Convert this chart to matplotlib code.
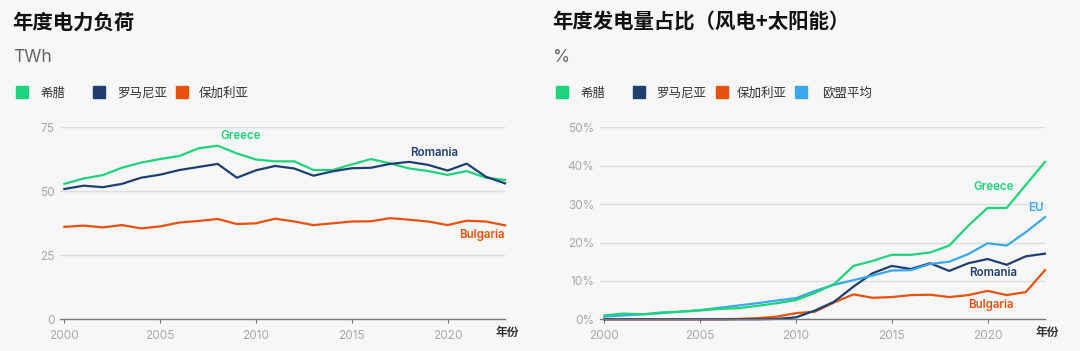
import matplotlib
matplotlib.use("Agg")
import matplotlib.pyplot as plt
from matplotlib.patches import Rectangle

plt.rcParams['font.family'] = ['Inter', 'Noto Sans CJK SC', 'DejaVu Sans']

years = list(range(2000, 2024))

# Annual electricity demand (TWh)
demand_greece = [52.9, 55.0, 56.3, 59.2, 61.2, 62.6, 63.8, 66.8, 67.8, 64.8, 62.4, 61.7,
                 61.7, 58.3, 58.3, 60.5, 62.6, 60.9, 58.9, 57.9, 56.4, 57.9, 55.3, 54.4]
demand_romania = [50.9, 52.2, 51.6, 52.9, 55.3, 56.5, 58.3, 59.5, 60.7, 55.3, 58.2, 59.9,
                  58.9, 56.1, 57.8, 59.0, 59.2, 60.7, 61.5, 60.3, 58.1, 60.8, 55.7, 53.1]
demand_bulgaria = [36.1, 36.6, 35.9, 36.8, 35.5, 36.3, 37.8, 38.4, 39.2, 37.2, 37.5, 39.3,
                   38.2, 36.8, 37.5, 38.2, 38.3, 39.5, 38.9, 38.2, 36.8, 38.5, 38.2, 36.7]

# Wind + solar share of generation (%)
share_greece = [1.0, 1.5, 1.3, 1.8, 2.0, 2.3, 2.7, 2.9, 3.5, 4.2, 5.0, 6.9,
                9.2, 13.9, 15.2, 16.8, 16.8, 17.4, 19.2, 24.4, 29.0, 29.0, 35.0, 41.0]
share_romania = [0.0, 0.0, 0.0, 0.0, 0.0, 0.0, 0.0, 0.0, 0.0, 0.1, 0.5, 2.3,
                 4.6, 8.5, 12.0, 13.9, 13.1, 14.6, 12.6, 14.6, 15.7, 14.2, 16.4, 17.1]
share_bulgaria = [0.0, 0.0, 0.0, 0.0, 0.0, 0.0, 0.0, 0.1, 0.3, 0.7, 1.6, 2.0,
                  4.4, 6.5, 5.6, 5.8, 6.3, 6.4, 5.8, 6.3, 7.4, 6.3, 7.1, 12.8]
share_eu = [0.7, 1.0, 1.3, 1.6, 2.0, 2.4, 3.0, 3.6, 4.2, 4.9, 5.5, 7.4,
            9.0, 10.2, 11.4, 12.7, 12.8, 14.4, 15.0, 17.0, 19.8, 19.2, 22.7, 26.6]

legend_left = ['希腊', '罗马尼亚', '保加利亚']
legend_right = ['希腊', '罗马尼亚', '保加利亚', '欧盟平均']
labels_left = ['Greece', 'Romania', 'Bulgaria']
labels_right = ['Greece', 'Romania', 'Bulgaria', 'EU']
xticks = [2000, 2005, 2010, 2015, 2020]
yticks_left = [0, 25, 50, 75]
yticks_right = [0, 10, 20, 30, 40, 50]

GREEN = '#1fd37a'
NAVY = '#203f6e'
ORANGE = '#e8520e'
BLUE = '#3aa8ea'
BG = '#f7f7f7'
GRID = '#dddddd'
TICK = '#a8a8a8'
CJK = ['Noto Sans CJK SC', 'DejaVu Sans']

W, H = 1080, 351
fig = plt.figure(figsize=(W / 100, H / 100), dpi=100, facecolor=BG)


def px(x, y):
    return x / W, 1 - y / H


def make_axes(left_px, ylim, yticks, fmt):
    ax = fig.add_axes([left_px / W, (H - 319.3) / H, (505 - 60) / W, 192 / H])
    ax.set_facecolor(BG)
    ax.set_xlim(1999.77, 2023)
    ax.set_ylim(*ylim)
    for s in ['top', 'right', 'left']:
        ax.spines[s].set_visible(False)
    ax.spines['bottom'].set_color('#777777')
    ax.spines['bottom'].set_linewidth(1.0)
    ax.set_yticks(yticks)
    ax.set_yticklabels([fmt(v) for v in yticks], fontsize=8.5, color=TICK)
    ax.tick_params(axis='y', length=0, pad=4)
    ax.set_xticks(xticks)
    ax.set_xticklabels([str(v) for v in xticks], fontsize=8.5, color=TICK)
    ax.tick_params(axis='x', length=3, color='#777777', pad=5)
    for v in yticks[1:]:
        ax.axhline(v, color=GRID, lw=1.0, zorder=0)
    return ax


def legend(items):
    for (sq_x, tx_x, name, col) in items:
        fig.patches.append(Rectangle(px(sq_x, 98), 12 / W, 12 / H, color=col,
                                     transform=fig.transFigure))
        fig.text(*px(tx_x, 93), name, fontsize=9, color='#333333', va='center', family=CJK)


# ---------- Left chart ----------
fig.text(*px(12, 22), '年度电力负荷', fontsize=14.7, fontweight='bold', color='#111111',
         va='center', family=CJK)
fig.text(*px(13, 57), 'TWh', fontsize=12.5, color='#666666', va='center')
legend([(16, 41, legend_left[0], GREEN), (93, 117, legend_left[1], NAVY),
        (176, 199, legend_left[2], ORANGE)])

ax1 = make_axes(60, (0, 75), yticks_left, lambda v: f'{v}')
for vals, col in [(demand_greece, GREEN), (demand_romania, NAVY), (demand_bulgaria, ORANGE)]:
    ax1.plot(years, vals, color=col, lw=1.6, clip_on=False)
ax1.text(2009.2, 71.6, labels_left[0], color=GREEN, fontsize=8.3, fontweight='semibold', ha='center', va='center')
ax1.text(2019.3, 65.1, labels_left[1], color=NAVY, fontsize=8.3, fontweight='semibold', ha='center', va='center')
ax1.text(2021.8, 32.9, labels_left[2], color=ORANGE, fontsize=8.3, fontweight='semibold', ha='center', va='center')
fig.text(*px(507.5, 332), '年份', fontsize=8.5, fontweight='bold', color='#333333',
         ha='center', va='center', family=CJK)

# ---------- Right chart ----------
fig.text(*px(552, 22), '年度发电量占比（风电+太阳能）', fontsize=14.7, fontweight='bold',
         color='#111111', va='center', family=CJK)
fig.text(*px(553, 57), '%', fontsize=12.5, color='#666666', va='center')
legend([(556, 581, legend_right[0], GREEN), (633, 656, legend_right[1], NAVY),
        (716, 737, legend_right[2], ORANGE), (795, 822, legend_right[3], BLUE)])

ax2 = make_axes(600, (0, 50), yticks_right, lambda v: f'{v}%')
for vals, col in [(share_bulgaria, ORANGE), (share_romania, NAVY), (share_eu, BLUE), (share_greece, GREEN)]:
    ax2.plot(years, vals, color=col, lw=1.6, clip_on=False)
ax2.text(2020.3, 34.5, labels_right[0], color=GREEN, fontsize=8.3, fontweight='semibold', ha='center', va='center')
ax2.text(2020.3, 12.1, labels_right[1], color=NAVY, fontsize=8.3, fontweight='semibold', ha='center', va='center')
ax2.text(2020.2, 3.7, labels_right[2], color=ORANGE, fontsize=8.3, fontweight='semibold', ha='center', va='center')
ax2.text(2022.5, 29.0, labels_right[3], color=BLUE, fontsize=8.3, fontweight='semibold', ha='center', va='center')
fig.text(*px(1047.5, 332), '年份', fontsize=8.5, fontweight='bold', color='#333333',
         ha='center', va='center', family=CJK)

fig.savefig('out.png', dpi=100, facecolor=BG)
